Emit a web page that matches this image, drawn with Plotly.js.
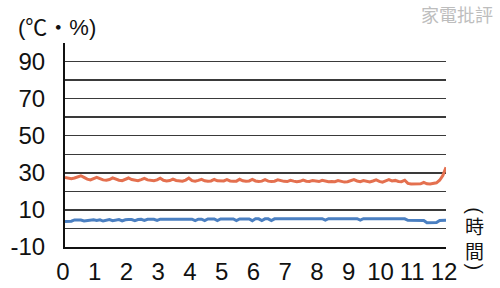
<!DOCTYPE html>
<html>
<head>
<meta charset="utf-8">
<script src="https://cdn.plot.ly/plotly-3.0.1.min.js"></script>
<style>html,body{margin:0;padding:0;background:#fff;}#chart{width:500px;height:288px;}</style>
</head>
<body>
<div id="chart"></div>
<script>
// Hours (0.0 .. 12.0, every 0.1 h)
const hours = [0.0,0.1,0.2,0.3,0.4,0.5,0.6,0.7,0.8,0.9,1.0,1.1,1.2,1.3,1.4,1.5,1.6,1.7,1.8,1.9,
2.0,2.1,2.2,2.3,2.4,2.5,2.6,2.7,2.8,2.9,3.0,3.1,3.2,3.3,3.4,3.5,3.6,3.7,3.8,3.9,
4.0,4.1,4.2,4.3,4.4,4.5,4.6,4.7,4.8,4.9,5.0,5.1,5.2,5.3,5.4,5.5,5.6,5.7,5.8,5.9,
6.0,6.1,6.2,6.3,6.4,6.5,6.6,6.7,6.8,6.9,7.0,7.1,7.2,7.3,7.4,7.5,7.6,7.7,7.8,7.9,
8.0,8.1,8.2,8.3,8.4,8.5,8.6,8.7,8.8,8.9,9.0,9.1,9.2,9.3,9.4,9.5,9.6,9.7,9.8,9.9,
10.0,10.1,10.2,10.3,10.4,10.5,10.6,10.7,10.8,10.9,11.0,11.1,11.2,11.3,11.4,11.5,11.6,11.7,11.8,11.9,12.0];

// Orange series (temperature, ℃)
const seriesRed = [27.5,27.0,26.8,27.2,28.0,28.4,27.5,26.6,26.2,26.8,27.6,26.9,26.2,26.0,26.4,27.3,26.6,26.0,25.8,26.5,
27.2,26.4,25.9,25.8,26.3,27.0,26.2,25.8,25.7,26.2,27.1,26.0,25.6,25.8,26.6,25.9,25.6,25.5,26.1,27.2,
25.8,25.5,25.9,26.5,25.7,25.4,25.6,26.4,25.7,25.5,25.6,26.3,25.6,25.4,25.5,26.5,25.7,25.4,25.6,26.4,
25.6,25.3,25.5,26.3,25.5,25.3,25.5,26.2,25.6,25.4,25.3,26.0,25.5,25.2,25.4,26.1,25.5,25.3,25.9,25.4,
25.3,26.0,25.4,25.2,25.3,25.2,25.8,25.3,25.0,25.2,25.9,26.3,25.6,25.2,25.8,25.3,25.1,25.6,26.2,25.4,
25.0,25.7,26.3,25.6,25.9,25.3,25.2,26.0,24.3,24.0,24.0,24.0,24.1,24.9,24.1,24.0,24.1,24.6,26.0,28.5,33.0];

// Blue series (humidity, %)
const seriesBlue = [3.8,3.8,3.9,4.6,4.6,4.5,4.0,4.1,4.6,4.7,4.3,4.7,4.0,4.6,4.8,4.2,4.7,4.8,4.1,4.7,
4.8,4.8,4.2,4.8,4.9,4.3,4.9,4.9,4.9,4.3,5.0,5.0,5.0,4.9,5.0,5.0,5.0,5.0,5.0,5.0,
5.0,4.2,5.0,5.0,4.2,5.1,5.1,5.1,4.2,5.1,5.1,5.1,5.1,5.1,4.2,5.1,5.1,5.1,5.1,4.2,
5.2,5.2,4.3,5.2,5.2,4.3,5.2,5.2,5.2,5.2,5.3,5.3,5.3,5.3,5.3,5.3,5.3,5.3,5.3,5.3,
5.3,5.3,4.5,5.3,5.3,5.3,5.3,5.3,5.3,5.3,5.3,5.3,5.3,4.5,5.3,5.3,5.3,5.3,5.3,5.3,
5.3,5.3,5.3,5.3,5.3,5.3,5.3,5.2,4.4,4.4,4.4,4.4,4.4,4.3,3.1,3.0,3.0,3.2,4.3,4.3,4.4];

// Tick labels
const xTicks = [0,1,2,3,4,5,6,7,8,9,10,11,12];
const yTickVals = [-10,0,10,20,30,40,50,60,70,80,90,100];
const yTickText = ['-10','','10','','30','','50','','70','','90',''];

const unitLabel = '(℃・%)';
const timeLabel = '時<br>間';
const watermark = '家電批評';

const labelFont = {family: 'Liberation Sans, Arial, sans-serif', size: 24, color: '#111'};

const traces = [
  {x: hours, y: seriesRed, mode: 'lines', line: {color: '#e4704f', width: 3}, hoverinfo: 'skip'},
  {x: hours, y: seriesBlue, mode: 'lines', line: {color: '#4a7fc1', width: 3}, hoverinfo: 'skip'}
];

const layout = {
  width: 500, height: 288,
  margin: {l: 65, r: 54, t: 43, b: 41},
  paper_bgcolor: '#fff', plot_bgcolor: '#fff',
  showlegend: false,
  xaxis: {
    range: [0, 12], tickvals: xTicks, showgrid: false, zeroline: false,
    showline: true, linecolor: '#111', linewidth: 2,
    ticks: '', tickfont: labelFont, ticklabelstandoff: 2, ticklabelshift: -2
  },
  yaxis: {
    range: [-10, 100], tickvals: yTickVals, ticktext: yTickText,
    showgrid: true, gridcolor: '#3a3a3a', gridwidth: 1.5, zeroline: false,
    showline: true, linecolor: '#111', linewidth: 2,
    ticks: '', tickfont: labelFont, ticklabelstandoff: 13
  },
  annotations: [
    {xref: 'paper', yref: 'paper', x: -0.128, y: 1.075, xanchor: 'left', yanchor: 'middle',
     text: unitLabel, showarrow: false,
     font: {family: 'Liberation Sans, Noto Sans CJK JP, sans-serif', size: 22, color: '#111'}},
    {xref: 'paper', yref: 'paper', x: 1.076, y: 0.045, xanchor: 'center', yanchor: 'middle',
     text: timeLabel, showarrow: false,
     font: {family: 'Noto Sans CJK JP, sans-serif', size: 19, color: '#111'}},
    {xref: 'paper', yref: 'paper', x: 1.076, y: 0.175, xanchor: 'center', yanchor: 'middle',
     text: '(', textangle: 90, showarrow: false,
     font: {family: 'Liberation Sans, sans-serif', size: 20, color: '#111'}},
    {xref: 'paper', yref: 'paper', x: 1.076, y: -0.1, xanchor: 'center', yanchor: 'middle',
     text: ')', textangle: 90, showarrow: false,
     font: {family: 'Liberation Sans, sans-serif', size: 20, color: '#111'}},
    {xref: 'paper', yref: 'paper', x: 1.03, y: 1.14, xanchor: 'center', yanchor: 'middle',
     text: watermark, showarrow: false,
     font: {family: 'Noto Sans CJK TC, sans-serif', size: 18, color: '#bdbdbd'}}
  ]
};

Plotly.newPlot('chart', traces, layout, {staticPlot: true, displayModeBar: false});
</script>
</body>
</html>
